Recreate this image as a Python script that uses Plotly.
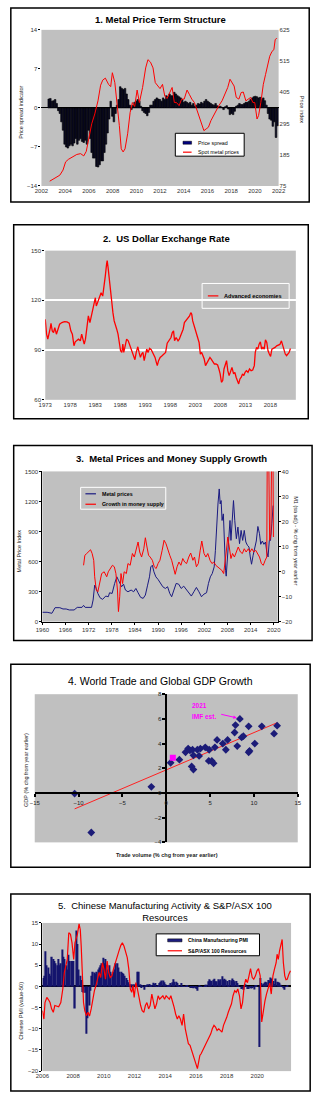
import numpy as np
import plotly.graph_objects as go

W, H = 321, 1096
FONT = "Liberation Sans, Arial, Helvetica, sans-serif"
NAVY = "#1a1a80"
RED = "#ff0000"
GRAY = "#c0c0c0"
TICK = dict(size=6, color="#333333", family=FONT)


def fx(p):
    return p / W


def fy(p):
    return 1 - p / H


# ---------------- Panel 1: Metal price term structure ----------------
spread_start = 2002.617
spread_step = 0.134
spread_vals = [
    1.6, 1.7, 1.2, 1.3, 1.5, 0.8, -0.5, -1.0, -2.5, -4.0,
    -6.5, -7.0, -7.2, -6.8, -6.5, -6.8, -6.3, -5.5, -6.5, -5.8,
    -5.5, -6.0, -6.2, -5.8, -6.5, -4.0, -5.5, -8.0, -9.0, -9.0,
    -10.5, -10.6, -10.2, -9.5, -9.5, -8.0, -6.5, -4.5, -2.0, 1.2,
    -1.5, -2.5, -1.0, 0.5, 1.5, 3.8, 3.5, 3.3, 3.5, 2.5,
    1.5, 0.5, -0.3, 0.5, 1.0, 1.2, 1.5, 1.2, 0.3, -0.5,
    -0.8, -1.0, -1.4, -0.8, 0.5, 0.5, 1.2, 1.5, 1.8, 1.6,
    1.5, 1.2, 1.8, 1.5, 2.2, 2.0, 2.5, 2.2, 2.2, 2.8,
    2.5, 2.2, 2.0, 1.8, 1.5, 1.0, 1.2, 1.0, 0.8, 1.0,
    0.5, 0.8, 0.3, 0.5, 0.8, 0.7, 1.0, 0.8, 1.2, 1.5,
    1.2, 1.0, 0.8, 0.6, 0.5, 0.8, 0.4, 0.2, 0.3, 0.1,
    -0.3, 0.2, 0.4, -0.2, -1.2, -1.0, -1.2, -0.6, 0.3, 0.5,
    0.8, 0.6, 0.6, 0.8, 1.0, 1.0, 1.2, 1.5, 1.8, 2.0,
    2.1, 2.0, 1.8, 1.9, 1.5, 1.8, 1.3, 0.5, -1.0, -2.0,
    -2.2, -3.3, -2.5, -5.3, -3.2,
]
spot_years = [
    2002.70, 2003.15, 2003.55, 2003.82, 2004.04, 2004.28, 2004.63, 2004.98, 2005.30, 2005.57,
    2005.78, 2005.97, 2006.24, 2006.50, 2006.77, 2006.99, 2007.17, 2007.39, 2007.66, 2007.84,
    2007.98, 2008.19, 2008.38, 2008.57, 2008.73, 2008.89, 2009.05, 2009.27, 2009.48, 2009.67,
    2009.86, 2010.07, 2010.26, 2010.53, 2010.79, 2010.98, 2011.20, 2011.41, 2011.60, 2011.79,
    2012.00, 2012.21, 2012.40, 2012.59, 2012.80, 2013.02, 2013.21, 2013.39, 2013.61, 2013.82,
    2014.04, 2014.28, 2014.47, 2014.68, 2014.90, 2015.08, 2015.27, 2015.49, 2015.70, 2015.89,
    2016.08, 2016.29, 2016.50, 2016.69, 2016.96, 2017.23, 2017.50, 2017.71, 2017.90, 2018.09,
    2018.25, 2018.43, 2018.65, 2018.84, 2019.02, 2019.24, 2019.45, 2019.64, 2019.83, 2019.99,
    2020.18, 2020.31, 2020.50, 2020.71, 2020.90, 2021.06, 2021.25, 2021.44, 2021.60, 2021.71,
    2021.84,
]
spot_vals = [
    92, 104, 113, 131, 160, 169, 177, 186, 189, 181,
    197, 241, 294, 329, 375, 430, 448, 455, 433, 425,
    474, 439, 369, 288, 206, 195, 206, 259, 334, 369,
    355, 413, 369, 422, 491, 520, 511, 491, 439, 427,
    418, 433, 392, 383, 404, 422, 369, 369, 358, 381,
    381, 413, 398, 381, 369, 346, 323, 299, 270, 276,
    282, 305, 323, 340, 358, 375, 404, 422, 451, 439,
    427, 387, 381, 404, 406, 375, 381, 387, 369, 369,
    311, 323, 369, 433, 468, 497, 532, 549, 555, 590,
    596,
]
p1_xticks = list(range(2002, 2023, 2))
p1_left_ticks = [-14, -7, 0, 7, 14]
p1_right_ticks = [75, 185, 295, 405, 515, 625]

# ---------------- Panel 2: US dollar exchange rate ----------------
usd_years = [
    1973.00, 1973.26, 1973.51, 1973.77, 1974.02, 1974.15, 1974.40, 1974.66, 1974.91, 1975.23,
    1975.55, 1975.87, 1976.32, 1976.83, 1977.34, 1977.79, 1978.11, 1978.42, 1978.74, 1979.00,
    1979.25, 1979.64, 1980.02, 1980.28, 1980.53, 1980.79, 1981.04, 1981.30, 1981.62, 1981.93,
    1982.32, 1982.70, 1983.02, 1983.21, 1983.53, 1983.85, 1984.17, 1984.49, 1984.74, 1985.00,
    1985.25, 1985.38, 1985.57, 1985.76, 1986.02, 1986.27, 1986.53, 1986.78, 1987.04, 1987.29,
    1987.55, 1987.81, 1988.06, 1988.32, 1988.51, 1988.70, 1988.95, 1989.27, 1989.59, 1989.85,
    1990.10, 1990.36, 1990.68, 1990.93, 1991.19, 1991.51, 1991.76, 1992.02, 1992.27, 1992.53,
    1992.78, 1993.04, 1993.29, 1993.55, 1993.87, 1994.19, 1994.44, 1994.70, 1994.95, 1995.21,
    1995.40, 1995.66, 1995.97, 1996.36, 1996.74, 1997.06, 1997.38, 1997.76, 1998.14, 1998.40,
    1998.65, 1998.85, 1999.16, 1999.55, 1999.80, 2000.06, 2000.31, 2000.57, 2000.82, 2001.08,
    2001.33, 2001.59, 2001.85, 2002.10, 2002.29, 2002.48, 2002.74, 2002.99, 2003.25, 2003.50,
    2003.76, 2004.01, 2004.27, 2004.53, 2004.78, 2005.04, 2005.36, 2005.67, 2005.93, 2006.18,
    2006.50, 2006.82, 2007.14, 2007.46, 2007.72, 2007.97, 2008.23, 2008.48, 2008.74, 2008.99,
    2009.25, 2009.50, 2009.76, 2010.01, 2010.33, 2010.65, 2010.91, 2011.16, 2011.42, 2011.67,
    2011.93, 2012.19, 2012.44, 2012.70, 2012.95, 2013.21, 2013.53, 2013.85, 2014.16, 2014.48,
    2014.80, 2014.99, 2015.25, 2015.50, 2015.76, 2016.01, 2016.27, 2016.52, 2016.78, 2017.03,
    2017.29, 2017.54, 2017.80, 2018.05, 2018.31, 2018.63, 2018.95, 2019.27, 2019.59, 2019.91,
    2020.22, 2020.48, 2020.73, 2020.99, 2021.25, 2021.50, 2021.76, 2022.02,
]
usd_vals = [
    108.6, 99.6, 96.6, 99.6, 103.6, 106.2, 101.6, 100.6, 103.6, 99.6,
    102.6, 105.6, 106.6, 107.2, 107.0, 106.2, 101.6, 99.6, 92.6, 95.0,
    95.6, 96.6, 95.6, 99.6, 96.6, 93.6, 96.6, 104.6, 110.6, 106.6,
    112.6, 118.6, 121.6, 116.6, 119.6, 122.6, 124.6, 122.6, 127.6, 134.6,
    141.6, 144.0, 139.6, 133.6, 126.6, 116.6, 112.6, 107.6, 105.6, 102.6,
    99.6, 93.6, 89.6, 88.6, 93.6, 88.6, 91.6, 96.6, 95.6, 93.6,
    91.6, 88.6, 86.6, 84.2, 88.6, 92.0, 88.6, 85.6, 87.6, 88.6,
    83.6, 88.6, 90.6, 88.6, 91.0, 90.2, 88.6, 86.6, 85.6, 82.6,
    80.6, 83.6, 85.6, 86.6, 87.6, 88.6, 94.2, 95.6, 97.6, 100.6,
    101.6, 95.6, 97.6, 95.6, 96.6, 98.6, 100.6, 102.6, 106.6, 107.6,
    108.6, 109.6, 110.6, 112.6, 111.6, 107.6, 104.6, 102.6, 99.6, 97.6,
    94.6, 87.6, 88.6, 86.6, 84.6, 80.6, 82.6, 83.6, 85.6, 84.6,
    82.6, 81.6, 81.6, 81.0, 78.6, 75.6, 70.6, 71.6, 78.6, 81.6,
    83.6, 77.6, 74.6, 76.6, 79.6, 75.6, 76.6, 73.6, 71.6, 69.6,
    72.6, 73.6, 75.6, 74.6, 76.6, 77.6, 76.6, 78.6, 77.6, 78.0,
    80.6, 88.6, 91.6, 90.6, 93.6, 95.0, 90.6, 91.6, 90.6, 96.2,
    94.6, 89.6, 87.6, 86.2, 90.6, 91.0, 91.6, 92.6, 93.0, 93.4,
    95.6, 92.6, 89.6, 87.6, 86.6, 87.6, 88.6, 91.0,
]
p2_xticks = list(range(1973, 2019, 5))
p2_yticks = [60, 90, 120, 150]

# ---------------- Panel 3: Metal prices and money supply growth ----------------
metal_years = [
    1960.00, 1961.23, 1962.47, 1963.29, 1964.52, 1965.34, 1966.16, 1966.98, 1968.22, 1969.04,
    1970.27, 1970.68, 1971.09, 1971.91, 1972.74, 1973.15, 1973.56, 1973.97, 1974.38, 1974.95,
    1975.61, 1976.43, 1977.09, 1977.42, 1978.08, 1978.73, 1979.31, 1979.72, 1980.13, 1980.54,
    1981.04, 1981.53, 1982.19, 1983.01, 1983.66, 1984.24, 1984.81, 1985.47, 1986.13, 1986.70,
    1987.28, 1987.77, 1988.10, 1988.51, 1988.92, 1989.42, 1989.99, 1990.57, 1991.22, 1991.88,
    1992.46, 1993.03, 1993.52, 1994.10, 1994.68, 1995.33, 1995.99, 1996.65, 1997.39, 1998.04,
    1998.62, 1999.28, 1999.93, 2000.59, 2001.25, 2001.91, 2002.56, 2003.06, 2003.55, 2004.04,
    2004.54, 2004.86, 2005.19, 2005.52, 2005.85, 2006.10, 2006.34, 2006.59, 2006.92, 2007.17,
    2007.49, 2007.66, 2007.99, 2008.32, 2008.64, 2008.89, 2009.22, 2009.55, 2009.88, 2010.29,
    2010.70, 2011.11, 2011.52, 2011.93, 2012.34, 2012.75, 2013.16, 2013.57, 2013.90, 2014.23,
    2014.64, 2015.05, 2015.46, 2015.87, 2016.29, 2016.61, 2017.03, 2017.44, 2017.85, 2018.18,
    2018.51, 2018.84, 2019.16, 2019.49, 2019.82,
]
metal_vals = [
    93, 93, 83, 139, 139, 126, 126, 116, 116, 142,
    142, 162, 142, 142, 142, 215, 364, 331, 281, 238,
    222, 255, 248, 288, 281, 381, 447, 414, 381, 348,
    374, 315, 298, 315, 298, 331, 288, 242, 232, 265,
    364, 447, 546, 563, 497, 447, 421, 381, 348, 331,
    348, 281, 248, 315, 381, 374, 331, 354, 315, 281,
    255, 298, 341, 298, 248, 275, 288, 381, 447, 480,
    546, 712, 1010, 1175, 1325, 1175, 1209, 1010, 1076, 778,
    513, 454, 679, 811, 1010, 811, 1043, 1209, 1010, 828,
    944, 778, 911, 811, 911, 795, 762, 745, 646, 573,
    662, 745, 805, 950, 878, 772, 805, 772, 795, 695,
    646, 811, 811, 977, 1159,
]
m1_years = [
    1970.68, 1971.01, 1971.50, 1971.91, 1972.49, 1972.90, 1973.31, 1973.56, 1973.97, 1974.38,
    1974.79, 1975.37, 1976.02, 1976.68, 1977.09, 1977.67, 1978.16, 1978.65, 1979.06, 1979.47,
    1979.72, 1980.05, 1980.38, 1980.79, 1981.20, 1981.77, 1982.19, 1982.76, 1983.34, 1983.83,
    1984.32, 1984.81, 1985.23, 1985.72, 1986.29, 1986.70, 1987.12, 1987.53, 1987.94, 1988.51,
    1989.01, 1989.50, 1989.99, 1990.48, 1991.06, 1991.55, 1992.05, 1992.54, 1993.03, 1993.52,
    1994.02, 1994.43, 1994.92, 1995.41, 1995.91, 1996.40, 1996.89, 1997.39, 1997.96, 1998.45,
    1999.03, 1999.44, 1999.93, 2000.43, 2000.92, 2001.33, 2001.91, 2002.40, 2002.89, 2003.47,
    2003.96, 2004.45, 2004.95, 2005.44, 2005.93, 2006.51, 2007.00, 2007.25, 2007.66, 2008.07,
    2008.48, 2008.89, 2009.30, 2009.79, 2010.29, 2010.78, 2011.35, 2011.85, 2012.34, 2012.83,
    2013.41, 2013.82, 2014.31, 2014.81, 2015.30, 2015.79, 2016.29, 2016.78, 2017.27, 2017.77,
    2018.18, 2018.34, 2018.59, 2018.92, 2019.25, 2019.49, 2019.74, 2019.90,
]
m1_vals = [
    2.5, 6.5, 7.2, 7.8, 8.7, 7.2, 4.5, -2.1, -7.4, -8.1,
    -4.8, -0.8, -0.1, -2.1, -0.1, 1.2, 2.5, 1.9, -0.8, -7.4,
    -16.0, -10.1, -0.8, -4.8, -0.1, -0.8, 3.2, 2.5, 7.2, 5.8,
    8.5, 11.8, 7.8, 5.8, 9.1, 13.5, 9.8, 6.5, 5.8, 4.5,
    1.9, 1.2, 3.2, 4.5, 8.5, 12.5, 11.1, 8.5, 6.5, 4.5,
    1.9, -1.1, 1.9, 3.8, 2.5, 5.2, 3.8, 3.2, 5.8, 7.4,
    4.5, 5.8, 1.9, 3.2, 8.5, 12.2, 7.2, 5.8, 7.2, 4.5,
    3.2, 3.8, 2.5, 1.9, 1.2, 0.5, -0.8, 1.9, 7.8, 13.8,
    9.8, 5.2, 7.2, 5.8, 7.8, 9.8, 7.8, 7.2, 9.1, 7.8,
    9.1, 7.8, 9.1, 7.8, 8.5, 7.2, 5.8, 3.2, 2.5, 4.5,
    5.8, 60.0, 60.0, 12.5, 15.0, 60.0, 60.0, 13.8,
]
p3_xticks = list(range(1960, 2021, 6))
p3_left_ticks = list(range(0, 1501, 300))
p3_right_ticks = list(range(-20, 41, 10))

# ---------------- Panel 4: World trade and global GDP growth ----------------
trade_vol = [
    -10.45, -8.55, -1.7, 0.5, 1.5, 2.2, 2.5, 2.7, 3.0, 3.1,
    2.9, 3.1, 3.55, 3.75, 3.9, 4.45, 4.9, 4.85, 5.2, 5.4,
    5.55, 5.8, 6.45, 6.8, 7.0, 7.8, 7.9, 8.1, 8.4, 8.6,
    8.8, 9.4, 9.4, 9.5, 10.1, 10.9, 12.3, 12.65,
]
gdp_growth = [
    -0.05, -3.2, 0.5, 2.45, 2.7, 3.3, 3.6, 3.45, 3.5, 3.05,
    2.15, 1.9, 3.5, 3.0, 3.6, 3.7, 3.5, 2.6, 2.6, 2.4,
    3.7, 4.3, 4.0, 3.5, 4.3, 4.9, 5.5, 3.8, 6.0, 4.5,
    4.6, 5.4, 3.3, 3.4, 4.0, 5.4, 4.8, 5.45,
]
imf_2021_trade = [0.75]
imf_2021_gdp = [2.85]
p4_xticks = list(range(-15, 16, 5))
p4_yticks = list(range(-4, 9, 2))

# ---------------- Panel 5: Chinese PMI and S&P/ASX 100 Resources ----------------
pmi_start = 2006
pmi_by_year = [
    [2.0, 2.5, 8.3, 5.0, 4.5, 3.0, 2.5, 7.0, 6.5, 6.0, 5.5, 5.0],
    [6.5, 5.0, 5.5, 8.7, 7.0, 6.5, 5.0, 4.0, 7.5, 6.0, 6.0, 6.0],
    [6.0, -5.2, 13.2, 10.0, 4.0, 2.5, 1.5, -1.3, -1.5, -1.5, -11.2, -7.5],
    [-4.5, -1.0, 2.5, 3.5, 3.3, 3.0, 3.5, 4.0, 4.5, 5.0, 5.5, 6.8],
    [5.5, 6.5, 5.0, 4.0, 5.0, 3.5, 3.0, 3.5, 4.0, 5.5, 5.5, 4.5],
    [3.5, 3.5, 3.2, 3.0, 2.5, 2.0, 1.5, 1.0, 0.5, 0.5, -0.5, 0.5],
    [0.5, 0.5, 3.5, 3.5, 0.5, -0.3, 0.2, -0.8, 0.2, 0.3, 0.5, 0.6],
    [0.4, 0.2, 0.9, 0.6, 0.8, 0.1, 0.3, 0.8, 1.1, 1.4, 1.4, 1.0],
    [0.5, 0.2, 0.3, 0.4, 0.8, 1.0, 1.7, 1.1, 1.1, 0.8, 0.3, 0.1],
    [0.8, -0.1, 0.1, 0.1, 0.2, 0.2, 0.0, -0.3, -0.2, -0.2, -0.4, -0.3],
    [-0.6, -1.0, 0.2, 0.1, 0.1, 0.0, -0.1, 0.4, 0.4, 1.2, 1.7, 1.4],
    [1.3, 1.6, 1.8, 1.2, 1.2, 1.7, 1.4, 1.7, 2.4, 1.6, 1.8, 1.6],
    [1.3, 0.3, 1.5, 1.4, 1.9, 1.5, 1.2, 1.3, 0.8, 0.2, 0.0, -0.6],
    [-0.5, -0.8, 0.5, 0.1, -0.6, -0.6, -0.3, -0.5, -0.2, -0.7, 0.2, 0.2],
    [0.0, -14.3, 2.0, 0.8, 0.6, 0.9, 1.1, 1.0, 1.5, 1.4, 2.1, 1.9],
    [1.3, 0.6, 1.9, 1.1, 1.0, 0.9, 0.4, 0.1, -0.4, -0.8, 0.1, 0.3],
]
asx_years = [
    2006.00, 2006.10, 2006.17, 2006.29, 2006.39, 2006.50, 2006.60, 2006.71, 2006.81, 2006.93,
    2007.06, 2007.20, 2007.33, 2007.43, 2007.54, 2007.62, 2007.72, 2007.83, 2007.93, 2008.04,
    2008.12, 2008.20, 2008.28, 2008.39, 2008.47, 2008.53, 2008.60, 2008.68, 2008.76, 2008.87,
    2008.97, 2009.07, 2009.18, 2009.28, 2009.39, 2009.49, 2009.59, 2009.70, 2009.80, 2009.91,
    2010.01, 2010.11, 2010.22, 2010.32, 2010.42, 2010.53, 2010.63, 2010.74, 2010.86, 2010.99,
    2011.11, 2011.21, 2011.32, 2011.42, 2011.53, 2011.63, 2011.73, 2011.82, 2011.90, 2011.98,
    2012.09, 2012.19, 2012.29, 2012.40, 2012.50, 2012.61, 2012.71, 2012.81, 2012.92, 2013.02,
    2013.13, 2013.23, 2013.33, 2013.44, 2013.54, 2013.64, 2013.75, 2013.85, 2013.96, 2014.06,
    2014.16, 2014.27, 2014.37, 2014.48, 2014.58, 2014.68, 2014.79, 2014.89, 2014.99, 2015.10,
    2015.20, 2015.31, 2015.41, 2015.51, 2015.62, 2015.72, 2015.83, 2015.93, 2016.03, 2016.10,
    2016.18, 2016.26, 2016.34, 2016.45, 2016.55, 2016.66, 2016.76, 2016.86, 2016.97, 2017.07,
    2017.18, 2017.28, 2017.38, 2017.49, 2017.59, 2017.70, 2017.80, 2017.90, 2018.01, 2018.11,
    2018.21, 2018.32, 2018.42, 2018.53, 2018.63, 2018.73, 2018.84, 2018.94, 2019.04, 2019.15,
    2019.25, 2019.36, 2019.46, 2019.56, 2019.67, 2019.77, 2019.88, 2019.98, 2020.08, 2020.19,
    2020.29, 2020.40, 2020.50, 2020.60, 2020.71, 2020.81, 2020.91, 2021.02, 2021.12, 2021.23,
    2021.29, 2021.37, 2021.45, 2021.54, 2021.62, 2021.70, 2021.79, 2021.87, 2021.95, 2022.06,
    2022.16,
]
asx_vals = [
    -5.7, -7.7, -3.8, -2.6, -3.1, -3.8, -5.3, -6.1, -4.5, -4.7,
    -4.8, -3.8, -0.6, 3.3, 4.8, 6.4, 12.7, 12.3, 10.3, 6.4,
    10.3, 11.1, 12.3, 14.8, 13.4, 9.5, 2.5, -3.8, -5.7, -6.9,
    -6.1, -7.0, -5.3, -3.0, -1.0, 0.2, 1.7, 3.3, 2.1, 5.6,
    4.1, 1.7, 6.0, 3.3, 2.1, 2.5, 4.1, 5.6, 6.8, 8.4,
    9.7, 10.3, 9.5, 8.4, 6.8, 4.1, -0.6, -1.4, 0.2, -2.6,
    0.9, -0.6, -3.0, -4.5, -5.7, -6.1, -4.5, -3.8, -5.3, -4.5,
    -1.8, -3.8, -5.3, -4.1, -2.2, -3.0, -2.6, -2.2, -3.0, -2.2,
    -2.6, -3.0, -2.2, -3.4, -4.9, -6.5, -7.7, -6.9, -7.7, -9.2,
    -6.5, -10.0, -11.6, -13.5, -13.9, -15.1, -16.3, -17.0, -18.6, -19.4,
    -17.8, -16.3, -15.9, -15.1, -14.3, -13.5, -13.1, -12.0, -11.2, -10.0,
    -9.2, -9.6, -10.4, -10.0, -10.4, -10.8, -9.2, -8.4, -7.3, -6.1,
    -5.3, -4.1, -2.2, -1.0, -1.4, -0.6, -2.2, -5.3, -3.8, 0.2,
    1.7, 0.9, 2.5, 4.2, 2.1, 1.7, 2.5, 3.7, 4.2, 2.5,
    -8.4, -5.3, -3.4, -1.8, -0.6, 0.8, -1.8, 2.5, 4.1, 5.6,
    7.6, 6.4, 8.4, 9.5, 11.1, 5.6, 2.5, 1.6, 1.7, 2.9,
    3.7,
]
p5_xticks = list(range(2006, 2021, 2))
p5_yticks = list(range(-20, 16, 5))

assert len(spot_years) == len(spot_vals)
assert len(usd_years) == len(usd_vals)
assert len(metal_years) == len(metal_vals)
assert len(m1_years) == len(m1_vals)
assert len(trade_vol) == len(gdp_growth)
assert len(asx_years) == len(asx_vals)

# derived positions
spread_x = spread_start + spread_step * np.arange(len(spread_vals))
pmi_vals = [v for yr in pmi_by_year for v in yr]
pmi_x = pmi_start + (np.arange(len(pmi_vals)) + 0.5) / 12.0
slope, intercept = np.polyfit(trade_vol, gdp_growth, 1)
trend_x = np.array([min(trade_vol), max(trade_vol)])
trend_y = slope * trend_x + intercept

fig = go.Figure()
# Panel 1
fig.add_trace(go.Bar(x=spread_x, y=spread_vals, width=spread_step, name="Price spread",
                     marker=dict(color="#0a0a28", line=dict(color="black", width=0.6)),
                     xaxis="x", yaxis="y"))
fig.add_trace(go.Scatter(x=spot_years, y=spot_vals, mode="lines", name="Spot metal prices",
                         line=dict(color=RED, width=1), xaxis="x", yaxis="y6"))
# Panel 2
fig.add_trace(go.Scatter(x=usd_years, y=usd_vals, mode="lines", name="Advanced economies",
                         line=dict(color=RED, width=1.3), xaxis="x2", yaxis="y2"))
# Panel 3
fig.add_trace(go.Scatter(x=metal_years, y=metal_vals, mode="lines", name="Metal prices",
                         line=dict(color=NAVY, width=1), xaxis="x3", yaxis="y3"))
fig.add_trace(go.Scatter(x=m1_years, y=m1_vals, mode="lines", name="Growth in money supply",
                         line=dict(color=RED, width=1), xaxis="x3", yaxis="y7"))
# Panel 4
fig.add_trace(go.Scatter(x=trend_x, y=trend_y, mode="lines", name="Trend",
                         line=dict(color="#ff2020", width=1), xaxis="x4", yaxis="y4"))
fig.add_trace(go.Scatter(x=trade_vol, y=gdp_growth, mode="markers", name="Annual",
                         marker=dict(symbol="diamond", size=6, color="#1c1c78"),
                         xaxis="x4", yaxis="y4"))
fig.add_trace(go.Scatter(x=imf_2021_trade, y=imf_2021_gdp, mode="markers", name="2021 IMF est.",
                         marker=dict(symbol="square", size=6, color="#ff00ff"),
                         xaxis="x4", yaxis="y4"))
# Panel 5
fig.add_trace(go.Bar(x=pmi_x, y=pmi_vals, width=1 / 12, name="China Manufacturing PMI",
                     marker=dict(color="#15156e", line=dict(width=0)), xaxis="x5", yaxis="y5"))
fig.add_trace(go.Scatter(x=asx_years, y=asx_vals, mode="lines", name="S&P/ASX 100 Resources",
                         line=dict(color=RED, width=1.2), xaxis="x5", yaxis="y5"))


def ax(**kw):
    base = dict(showgrid=False, zeroline=False, tickfont=TICK, ticks="outside", ticklen=2,
                tickcolor="black", showline=False)
    base.update(kw)
    return base


layout = dict(
    width=W, height=H, margin=dict(l=0, r=0, t=0, b=0), showlegend=False,
    paper_bgcolor="white", plot_bgcolor=GRAY, barmode="overlay",
    font=dict(family=FONT, size=6, color="#222222"),
    # panel 1
    xaxis=ax(domain=[fx(36), fx(284)], anchor="y", range=[2002, 2022], tickvals=p1_xticks, ticks=""),
    yaxis=ax(domain=[fy(184), fy(27)], anchor="x", range=[-14, 14], tickvals=p1_left_ticks,
             zeroline=True, zerolinecolor="black", zerolinewidth=1),
    yaxis6=ax(overlaying="y", side="right", anchor="x", range=[75, 625], tickvals=p1_right_ticks, ticks=""),
    # panel 2
    xaxis2=ax(domain=[fx(40), fx(302)], anchor="y2", range=[1973, 2023.1], tickvals=p2_xticks, ticks=""),
    yaxis2=ax(domain=[fy(399), fy(249)], anchor="x2", range=[60, 150], tickvals=p2_yticks,
              showgrid=True, gridcolor="white", gridwidth=1.5),
    # panel 3
    xaxis3=ax(domain=[fx(37), fx(283)], anchor="y3", range=[1960, 2021], tickvals=p3_xticks,
              showline=True, linecolor="black", linewidth=1),
    yaxis3=ax(domain=[fy(622), fy(471)], anchor="x3", range=[0, 1500], tickvals=p3_left_ticks,
              showline=True, linecolor="black", linewidth=1),
    yaxis7=ax(overlaying="y3", side="right", anchor="x3", range=[-20, 40], tickvals=p3_right_ticks,
              showline=True, linecolor="black", linewidth=1),
    # panel 4
    xaxis4=ax(domain=[fx(29), fx(304)], anchor="free", position=fy(794.7), range=[-15, 15],
              tickvals=p4_xticks, showline=True, linecolor="black", linewidth=2, ticklen=3,
              tickwidth=1.5, tickfont=dict(size=6, color="#222222", family=FONT)),
    yaxis4=ax(domain=[fy(844), fy(695)], anchor="free", position=fx(166.7), range=[-4, 8],
              tickvals=p4_yticks, showline=True, linecolor="black", linewidth=2, ticklen=3,
              tickwidth=1.5, tickfont=dict(size=6, color="#222222", family=FONT)),
    # panel 5
    xaxis5=ax(domain=[fx(37), fx(297)], anchor="y5", range=[2006, 2022.2], tickvals=p5_xticks, ticks=""),
    yaxis5=ax(domain=[fy(1074), fy(925)], anchor="x5", range=[-20, 15], tickvals=p5_yticks,
              showline=True, linecolor="black", linewidth=1,
              zeroline=True, zerolinecolor="black", zerolinewidth=1.5),
)
fig.update_layout(**layout)

shapes = []
annotations = []

# frames
for (x0, y0, x1, y1) in [(4, 5, 316, 200), (7, 223, 315, 418), (7, 445, 319, 641),
                         (4, 665, 317, 869), (4, 896, 317, 1094)]:
    shapes.append(dict(type="rect", xref="paper", yref="paper", x0=fx(x0), x1=fx(x1),
                       y0=fy(y1), y1=fy(y0), line=dict(color="black", width=1.5),
                       fillcolor="rgba(0,0,0,0)", layer="above"))


def title(text, cx, cy, size=10):
    annotations.append(dict(text=text, x=fx(cx), y=fy(cy), xref="paper", yref="paper",
                            xanchor="center", yanchor="middle", showarrow=False,
                            font=dict(size=size, color="black", family=FONT)))


title("<b>1. Metal Price Term Structure</b>", 160, 17, 9.5)
title("<b>2.&nbsp; US Dollar Exchange Rate</b>", 167, 237, 9.5)
title("<b>3.&nbsp; Metal Prices and Money Supply Growth</b>", 172, 458, 9.5)
title("4. World Trade and Global GDP Growth", 161, 682, 10.5)
title("5.&nbsp; Chinese Manufacturing Activity &amp; S&amp;P/ASX 100<br>Resources", 165, 913, 9.5)


def vlabel(text, cx, cy, angle=-90, size=5.5):
    annotations.append(dict(text=text, x=fx(cx), y=fy(cy), xref="paper", yref="paper",
                            xanchor="center", yanchor="middle", showarrow=False, textangle=angle,
                            font=dict(size=size, color="#222222", family=FONT)))


vlabel("Price spread indicator", 15, 110)
vlabel("Price index", 308, 107, angle=90)
vlabel("Metal Price Index", 13, 551)
vlabel("M1 (sa adj) - % chg from year earlier", 302, 541, angle=90)
vlabel("GDP (% chg from year earlier)", 20, 771)
vlabel("Chinese PMI (value-50)", 15, 1013)
vlabel("<b>Trade volume (% chg from year earlier)</b>", 167, 857, angle=0, size=5.5)


def legend_box(x0, y0, x1, y1, fill, border):
    shapes.append(dict(type="rect", xref="paper", yref="paper", x0=fx(x0), x1=fx(x1),
                       y0=fy(y1), y1=fy(y0), line=dict(color=border, width=1),
                       fillcolor=fill, layer="above"))


def legend_line(x0, x1, y, color, width=1.2):
    shapes.append(dict(type="line", xref="paper", yref="paper", x0=fx(x0), x1=fx(x1),
                       y0=fy(y), y1=fy(y), line=dict(color=color, width=width), layer="above"))


def legend_swatch(x0, x1, y, color):
    shapes.append(dict(type="rect", xref="paper", yref="paper", x0=fx(x0), x1=fx(x1),
                       y0=fy(y + 1.5), y1=fy(y - 1.5), line=dict(color="black", width=0.5),
                       fillcolor=color, layer="above"))


def legend_text(text, x, y, size=5.3):
    annotations.append(dict(text=text, x=fx(x), y=fy(y), xref="paper", yref="paper",
                            xanchor="left", yanchor="middle", showarrow=False,
                            font=dict(size=size, color="black", family=FONT)))


# panel 1 legend
legend_box(176, 131, 248, 154, "white", "black")
legend_swatch(184, 193, 140.5, "#000080")
legend_text("Price spread", 198, 140.5)
legend_line(184, 193, 150, RED)
legend_text("Spot metal prices", 198, 150)
# panel 2 legend
legend_box(204, 282, 295, 307, "rgba(0,0,0,0)", "white")
legend_line(210, 221, 294.5, RED)
legend_text("<b>Advanced economies</b>", 225, 294.5, size=5.6)
# panel 3 legend
legend_box(77, 487, 166, 509, "rgba(0,0,0,0)", "white")
legend_line(82, 93, 493.5, NAVY)
legend_text("<b>Metal prices</b>", 97, 493.5)
legend_line(82, 93, 504, RED)
legend_text("<b>Growth in money supply</b>", 97, 504)
# panel 5 legend
legend_box(156, 936, 264, 958, "white", "black")
legend_swatch(168, 183, 942.5, "#1c1c80")
legend_text("<b>China Manufacturing PMI</b>", 187, 942.5, size=5.0)
legend_line(168, 183, 953, RED)
legend_text("<b>S&amp;P/ASX 100 Resources</b>", 187, 953, size=5.0)

# panel 4 magenta annotations
annotations.append(dict(text="<b>2021</b>", x=2.7, y=7.07, xref="x4", yref="y4", xanchor="left",
                        yanchor="middle", showarrow=False,
                        font=dict(size=6.5, color="#ff00ff", family=FONT)))
annotations.append(dict(text="<b>IMF est.</b>", x=2.7, y=6.2, xref="x4", yref="y4", xanchor="left",
                        yanchor="middle", showarrow=False,
                        font=dict(size=6.5, color="#ff00ff", family=FONT)))
annotations.append(dict(text="", x=8.05, y=6.08, xref="x4", yref="y4", ax=6.1, ay=6.4,
                        axref="x4", ayref="y4", showarrow=True, arrowhead=2, arrowsize=0.7,
                        arrowwidth=1, arrowcolor="#ff00ff"))

fig.update_layout(shapes=shapes, annotations=annotations)
fig.write_html("out.html")
